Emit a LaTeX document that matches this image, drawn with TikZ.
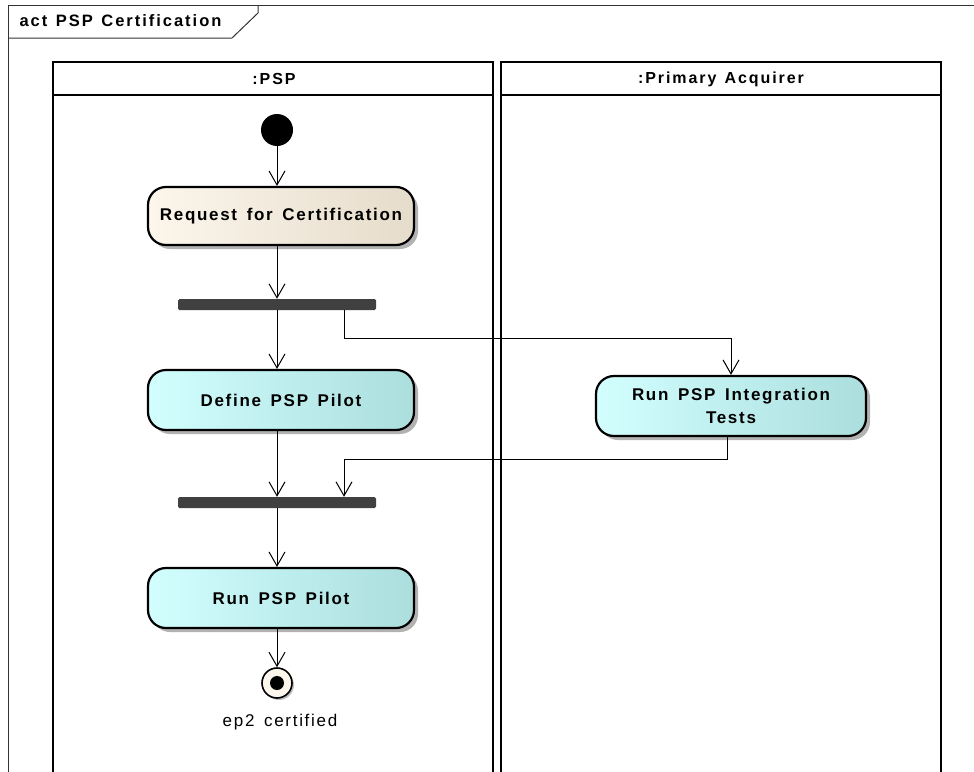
\documentclass[tikz,border=0pt]{standalone}
\usepackage{fontspec}
\setmainfont{Liberation Sans}
\newfontfamily\spaced{Liberation Sans}[LetterSpace=12, WordSpace=1.3]
\newfontfamily\spacedbox{Liberation Sans}[LetterSpace=10, WordSpace=1.5]
\usetikzlibrary{arrows.meta,shadows}

\definecolor{beigeL}{HTML}{FCF6EC}
\definecolor{beigeR}{HTML}{E6DCCB}
\definecolor{cyanL}{HTML}{D2FEFE}
\definecolor{cyanR}{HTML}{ACDEDE}
\definecolor{barc}{HTML}{404040}

\tikzset{
  x=1pt, y=-1pt,
  action/.style={rounded corners=18pt, draw, line width=2.2pt,
    minimum width=266pt, minimum height=58pt, align=center,
    font=\spacedbox\bfseries\fontsize{17}{23}\selectfont,
    drop shadow={shadow xshift=4pt, shadow yshift=-4pt, fill=black!30, opacity=1}},
  beige/.style={left color=beigeL, right color=beigeR},
  cyanish/.style={left color=cyanL, right color=cyanR},
  syncbar/.style={fill=barc, rounded corners=1.5pt, minimum width=198pt,
    minimum height=11pt, inner sep=0pt},
  flow/.style={line width=1pt, -{Straight Barb[length=14pt, width=16pt, line width=1pt]}},
  lane/.style={line width=2pt},
  lanetitle/.style={font=\spaced\bfseries\fontsize{16}{18}\selectfont},
}

\begin{document}
\begin{tikzpicture}
\useasboundingbox (0,0) rectangle (974,771);
\clip (0,0) rectangle (974,771);

% diagram frame with its name tab
\draw[line width=1pt, black!80] (8,785) -- (8,5) -- (990,5);
\draw[line width=1pt, black!80] (8,38) -- (232,38) -- (258,13) -- (258,5);
\node[anchor=west, font=\spaced\bfseries\fontsize{16.5}{18}\selectfont] (frametitle) at (16,21) {act PSP Certification};

% swimlanes
\draw[lane] (53,785) -- (53,62) -- (493,62) -- (493,785);
\draw[lane] (53,95) -- (493,95);
\draw[lane] (501,785) -- (501,62) -- (941,62) -- (941,785);
\draw[lane] (501,95) -- (941,95);
\node[lanetitle] (lanePSP) at (274,79) {:PSP};
\node[lanetitle] (laneACQ) at (721,79) {:Primary Acquirer};

% nodes
\node[circle, fill=black, minimum size=32pt, inner sep=0pt] (start) at (277,130) {};
\node[action, beige] (req) at (281,216) {Request for Certification};
\node[syncbar] (fork) at (277,304.5) {};
\node[action, cyanish, minimum height=60pt] (define) at (281,400) {Define PSP Pilot};
\node[action, cyanish, minimum width=270pt, minimum height=60pt] (run) at (731,406) {Run PSP Integration\\Tests};
\node[syncbar] (join) at (277,502.5) {};
\node[action, cyanish, minimum height=60pt] (pilot) at (281,598) {Run PSP Pilot};
\node[circle, draw, line width=1.6pt, fill=beigeL, minimum size=30pt, inner sep=0pt,
      drop shadow={shadow xshift=2pt, shadow yshift=-2pt, fill=black!25, opacity=1}] (final) at (277,683) {};
\node[circle, fill=black, minimum size=14pt, inner sep=0pt] (finaldot) at (final.center) {};
\node[font=\spacedbox\fontsize{17}{18}\selectfont] (finallabel) at (280,722) {ep2 certified};

% connectors
\coordinate (branch) at (344,304.5);
\coordinate (merge) at (344,502.5);
\draw[flow] (start) -- (req.north -| start);
\draw[flow] (req.south -| start) -- (fork.north);
\draw[flow] (fork.south) -- (define.north -| fork);
\draw[flow] (branch |- fork.south) -- (344,338) -| (run.north);
\draw[flow] (define.south -| join) -- (join.north);
\draw[flow] ([xshift=-4pt]run.south) -- (727,459) -| (merge |- join.north);
\draw[flow] (join.south) -- (pilot.north -| join);
\draw[flow] (pilot.south -| final) -- (final.north);
\end{tikzpicture}
\end{document}
